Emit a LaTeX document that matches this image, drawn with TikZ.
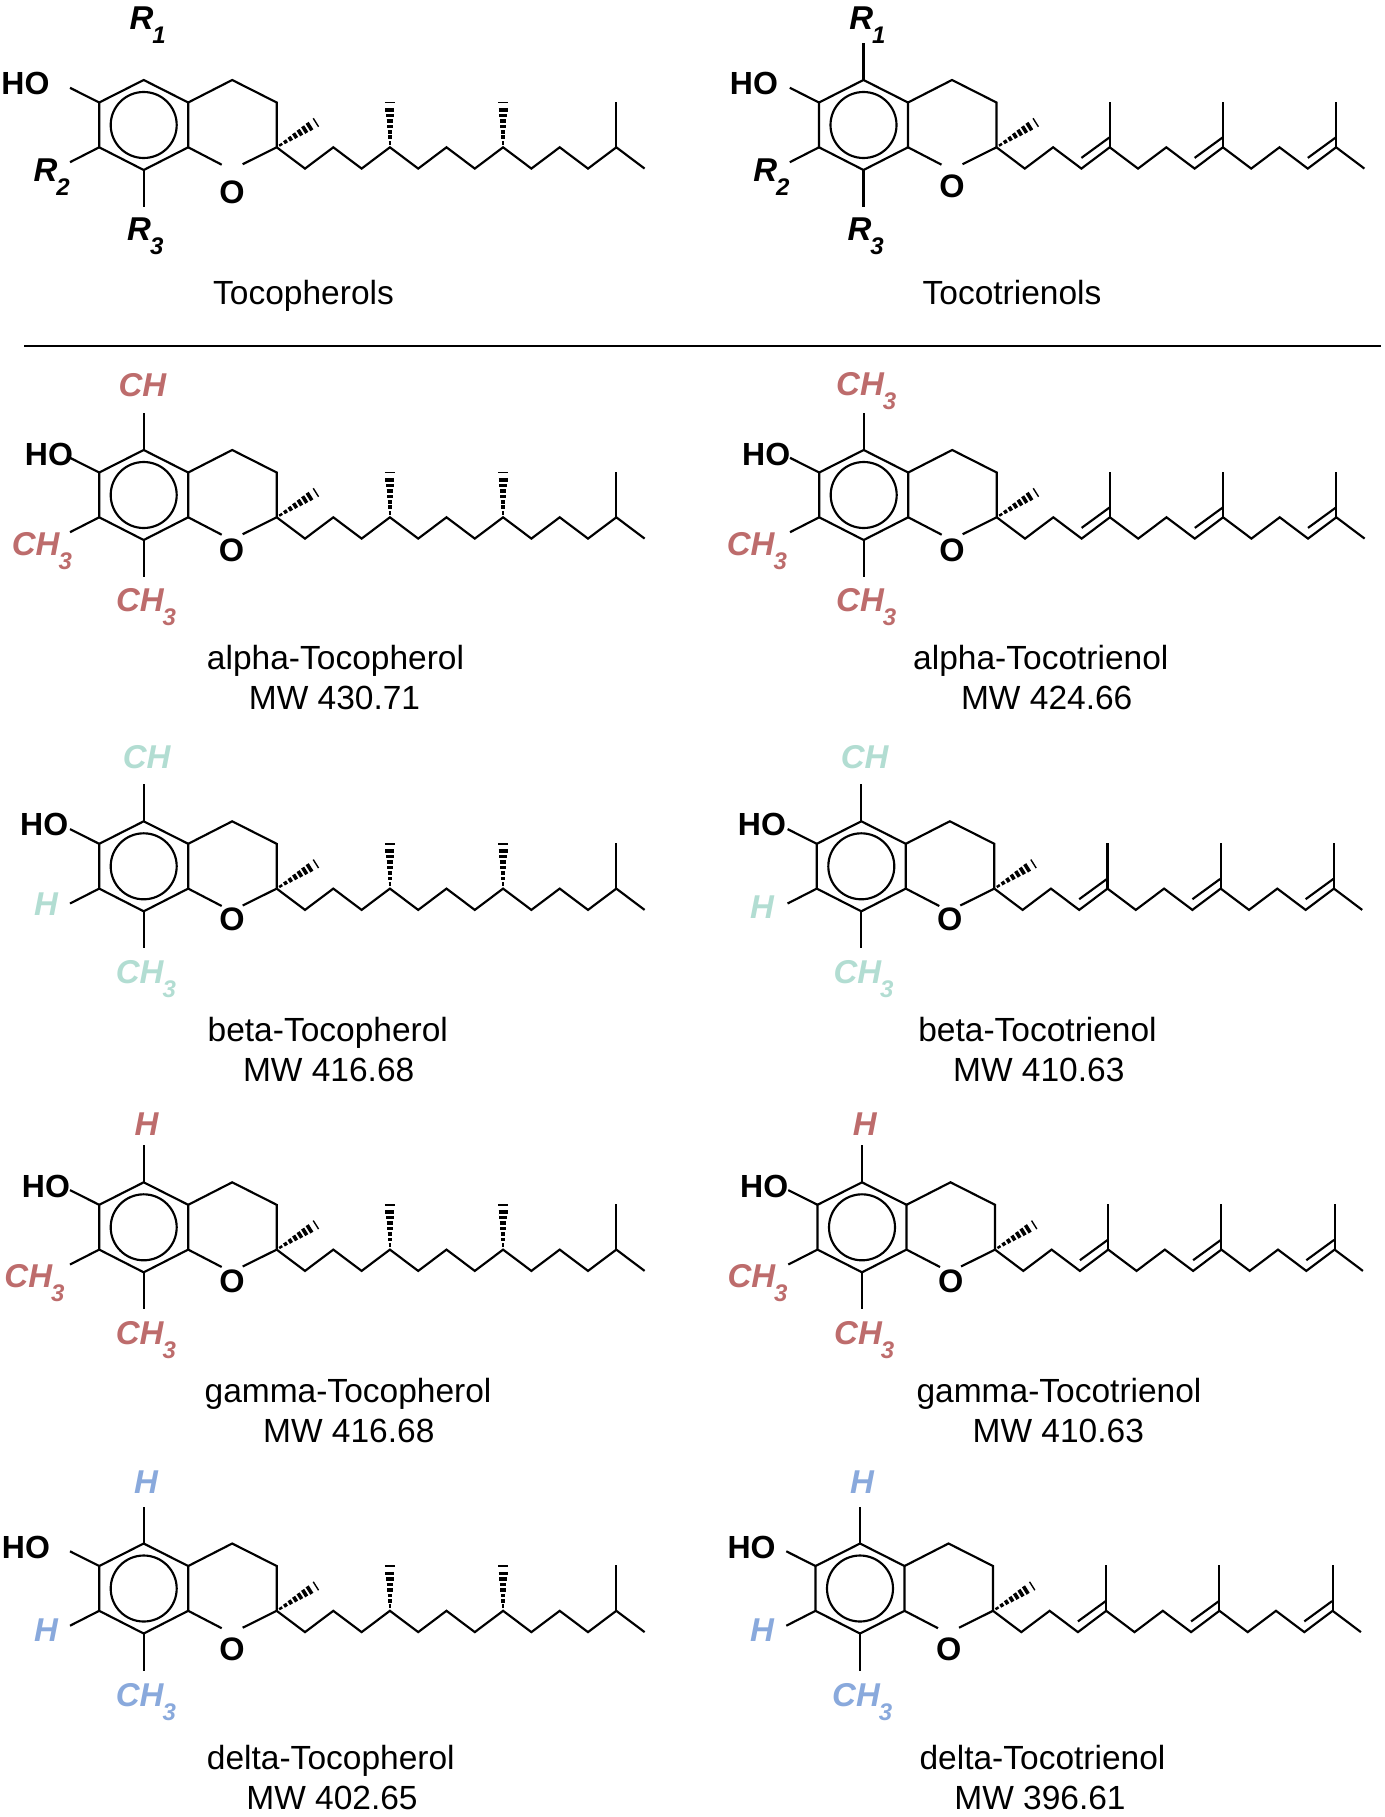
\documentclass[tikz,border=0pt]{standalone}
\usepackage{fontspec}
\setmainfont{Liberation Sans}
\usetikzlibrary{calc}
\definecolor{groupred}{HTML}{BD6C6C}
\definecolor{groupteal}{HTML}{B2DDD2}
\definecolor{groupblue}{HTML}{89A9DC}
\newcommand\tsub[1]{\kern-1pt\raisebox{-14pt}{\fontsize{24}{24}\selectfont #1}}
\newcommand\hashbond[2]{%
\foreach \pos in {.10,.22,.34,.46,.58,.70,.82}{
\pgfmathsetmacro\wid{.8+4.4*\pos}
\draw[line width=3.6pt] ($(#1)!\pos!(#2)!\wid pt!90:(#2)$) -- ($(#1)!\pos!(#2)!\wid pt!-90:(#2)$);
}
\draw[line width=1.4pt] ($(#1)!.98!(#2)!5pt!90:(#2)$) -- ($(#1)!.98!(#2)!5pt!-90:(#2)$);
}
\newcommand\ringcore{%
\coordinate (-c1) at (0,-45);
\coordinate (-c2) at (44.5,-22.5);
\coordinate (-c3) at (44.5,22.3);
\coordinate (-c4) at (0,45);
\coordinate (-c5) at (-44.5,22.3);
\coordinate (-c6) at (-44.5,-22.5);
\coordinate (-r1) at (0,-82);
\coordinate (-r2) at (-73.7,37.2);
\coordinate (-r3) at (0,82);
\coordinate (-oh) at (-73.7,-37.2);
\coordinate (-p1) at (88.5,-45);
\coordinate (-p2) at (133,-22.5);
\coordinate (-ol) at (78,39.7);
\coordinate (-or) at (99,39.2);
\coordinate (-me) at (173,-3);
\foreach \k in {0,...,13}
\coordinate (-t\k) at ({133+28.3*\k},{22.3+21.3*mod(\k,2)});
\foreach \k in {4,8,12}
\coordinate (-u\k) at ({133+28.3*\k},-23.3);
\draw[bondline] (-c1) -- (-c2) -- (-c3) -- (-c4) -- (-c5) -- (-c6) -- cycle;
\draw[bondline] (0,0) circle[radius=33];
\draw[bondline] (-c2) -- (-p1) -- (-p2) -- (-t0);
\draw[bondline] (-c3) -- (-ol);
\draw[bondline] (-or) -- (-t0);
\draw[bondline] (-c6) -- (-oh);
\draw[bondline] (-c5) -- (-r2);
\draw[bondline] (-c4) -- (-r3);
\hashbond{-t0}{-me}
\draw[bondline] (-t0) -- (-t1) -- (-t2) -- (-t3) -- (-t4) -- (-t5) -- (-t6) -- (-t7) -- (-t8) -- (-t9) -- (-t10) -- (-t11) -- (-t12) -- (-t13);
\draw[bondline] (-t12) -- (-u12);
}
\tikzset{
bondline/.style={line width=2.15pt,line join=miter},
namelbl/.style={font=\fontsize{33.5}{33.5}\selectfont,anchor=base,inner sep=0pt,yshift=-1pt},
atomlbl/.style={font=\fontsize{32}{32}\selectfont\bfseries,anchor=base west,inner sep=0pt},
oxylbl/.style={font=\fontsize{32.5}{32.5}\selectfont\bfseries,anchor=base,inner sep=0pt},
grouplbl/.style={font=\fontsize{33}{33}\selectfont\bfseries\itshape,anchor=base west,inner sep=0pt},
tocosat/.pic={
\ringcore
\hashbond{-t4}{-u4}
\hashbond{-t8}{-u8}
},
tocoene/.pic={
\ringcore
\draw[bondline] (-t4) -- (-u4);
\draw[bondline] (-t8) -- (-u8);
\foreach \k/\j in {4/3,8/7,12/11}
\draw[bondline] ($(-t\k)+(-0.5,-9.7)$) -- ($(-t\j)+(0,-10.7)$);
}
}
\begin{document}
\begin{tikzpicture}[x=1pt,y=-1pt]
\useasboundingbox (0,0) rectangle (1384,1817);
% general structures
\pic (gl) at (143.7,125) {tocosat};
\pic (gr) at (863.5,125) {tocoene};
\draw[bondline] (gr-c1) -- (gr-r1);
\node[grouplbl] (glR1) at (129.3,30) {R\tsub{1}};
\node[atomlbl] (glHO) at (1.3,94.3) {HO};
\node[grouplbl] (glR2) at (33.4,181.7) {R\tsub{2}};
\node[grouplbl] (glR3) at (127,240.7) {R\tsub{3}};
\node[oxylbl] (glO) at (232,203.3) {O};
\node[grouplbl] (grR1) at (849.1,30) {R\tsub{1}};
\node[atomlbl] (grHO) at (729.7,94.3) {HO};
\node[grouplbl] (grR2) at (753.2,181.7) {R\tsub{2}};
\node[grouplbl] (grR3) at (847.4,240.7) {R\tsub{3}};
\node[oxylbl] (grO) at (952,197.3) {O};
\node[namelbl] (glname) at (303.5,303) {Tocopherols};
\node[namelbl] (grname) at (1012,303) {Tocotrienols};
\coordinate (sepl) at (24,345.7);
\coordinate (sepr) at (1381,345.7);
\draw[line width=2.3pt] (sepl) -- (sepr);
% alpha
\pic (al) at (143.7,495) {tocosat};
\pic (ar) at (863.7,495) {tocoene};
\draw[bondline] (al-c1) -- (al-r1);
\draw[bondline] (ar-c1) -- (ar-r1);
\begin{scope}[every node/.append style={text=groupred}]
\node[grouplbl] (al1) at (118.4,396.7) {CH};
\node[grouplbl] (al2) at (11.7,555) {CH\tsub{3}};
\node[grouplbl] (al3) at (115.8,611.7) {CH\tsub{3}};
\node[grouplbl] (ar1) at (836,395.7) {CH\tsub{3}};
\node[grouplbl] (ar2) at (726.7,555) {CH\tsub{3}};
\node[grouplbl] (ar3) at (836,611.7) {CH\tsub{3}};
\end{scope}
\node[atomlbl] (alHO) at (24.7,465) {HO};
\node[oxylbl] (alO) at (231.5,561.7) {O};
\node[atomlbl] (arHO) at (742,465) {HO};
\node[oxylbl] (arO) at (952,561.7) {O};
\node[namelbl] (alname) at (335.5,668) {alpha-Tocopherol};
\node[namelbl] (almw) at (334.5,708) {MW 430.71};
\node[namelbl] (arname) at (1040.8,668) {alpha-Tocotrienol};
\node[namelbl] (armw) at (1046.7,708) {MW 424.66};
% beta
\pic (bl) at (143.7,866.3) {tocosat};
\pic (br) at (861.3,866.3) {tocoene};
\draw[bondline] (bl-c1) -- (bl-r1);
\draw[bondline] (br-c1) -- (br-r1);
\begin{scope}[every node/.append style={text=groupteal}]
\node[grouplbl] (bl1) at (122.7,768.3) {CH};
\node[grouplbl] (bl2) at (34,915.7) {H};
\node[grouplbl] (bl3) at (115.7,983.3) {CH\tsub{3}};
\node[grouplbl] (br1) at (840.7,768.3) {CH};
\node[grouplbl] (br2) at (750,918.3) {H};
\node[grouplbl] (br3) at (833.3,983.3) {CH\tsub{3}};
\end{scope}
\node[atomlbl] (blHO) at (20,835.7) {HO};
\node[oxylbl] (blO) at (232,930) {O};
\node[atomlbl] (brHO) at (737.7,835.7) {HO};
\node[oxylbl] (brO) at (949.7,930) {O};
\node[namelbl] (blname) at (327.8,1040) {beta-Tocopherol};
\node[namelbl] (blmw) at (328.7,1080) {MW 416.68};
\node[namelbl] (brname) at (1037.5,1040) {beta-Tocotrienol};
\node[namelbl] (brmw) at (1038.8,1080) {MW 410.63};
% gamma
\pic (cl) at (143.7,1227.3) {tocosat};
\pic (cr) at (862,1227.3) {tocoene};
\draw[bondline] (cl-c1) -- (cl-r1);
\draw[bondline] (cr-c1) -- (cr-r1);
\begin{scope}[every node/.append style={text=groupred}]
\node[grouplbl] (cl1) at (134.3,1135) {H};
\node[grouplbl] (cl2) at (4.3,1287.3) {CH\tsub{3}};
\node[grouplbl] (cl3) at (115.7,1344.3) {CH\tsub{3}};
\node[grouplbl] (cr1) at (852.7,1135) {H};
\node[grouplbl] (cr2) at (727.3,1287.3) {CH\tsub{3}};
\node[grouplbl] (cr3) at (834,1344.3) {CH\tsub{3}};
\end{scope}
\node[atomlbl] (clHO) at (21.7,1197.3) {HO};
\node[oxylbl] (clO) at (232,1292.7) {O};
\node[atomlbl] (crHO) at (740,1197.3) {HO};
\node[oxylbl] (crO) at (950.7,1292.7) {O};
\node[namelbl] (clname) at (348,1401.7) {gamma-Tocopherol};
\node[namelbl] (clmw) at (348.8,1441.7) {MW 416.68};
\node[namelbl] (crname) at (1059,1401.7) {gamma-Tocotrienol};
\node[namelbl] (crmw) at (1058.3,1441.7) {MW 410.63};
% delta
\pic (dl) at (143.7,1588.5) {tocosat};
\pic (dr) at (860,1588.5) {tocoene};
\draw[bondline] (dl-c1) -- (dl-r1);
\draw[bondline] (dr-c1) -- (dr-r1);
\begin{scope}[every node/.append style={text=groupblue}]
\node[grouplbl] (dl1) at (134,1493) {H};
\node[grouplbl] (dl2) at (34,1641.3) {H};
\node[grouplbl] (dl3) at (115.7,1706) {CH\tsub{3}};
\node[grouplbl] (dr1) at (850,1493) {H};
\node[grouplbl] (dr2) at (750,1641.3) {H};
\node[grouplbl] (dr3) at (832,1706) {CH\tsub{3}};
\end{scope}
\node[atomlbl] (dlHO) at (1.7,1558.7) {HO};
\node[oxylbl] (dlO) at (232,1660.3) {O};
\node[atomlbl] (drHO) at (727.3,1558.7) {HO};
\node[oxylbl] (drO) at (948.7,1660.3) {O};
\node[namelbl] (dlname) at (330.8,1768.7) {delta-Tocopherol};
\node[namelbl] (dlmw) at (332,1808.7) {MW 402.65};
\node[namelbl] (drname) at (1042.5,1768.7) {delta-Tocotrienol};
\node[namelbl] (drmw) at (1040,1808.7) {MW 396.61};
\end{tikzpicture}
\end{document}
